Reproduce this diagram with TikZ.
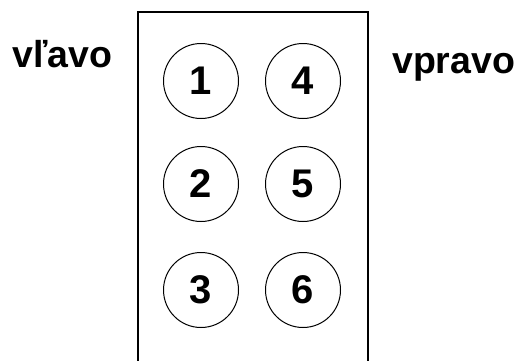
\documentclass[tikz,border=0pt]{standalone}
\usepackage{fontspec}
\setmainfont{Liberation Sans}
\usepackage{tikz}

\begin{document}
\begin{tikzpicture}[x=1pt,y=1pt]
	\tikzstyle{button} = [draw, circle, line width=1pt, minimum size=75pt, inner sep=0pt, font=\fontsize{40}{40}\selectfont\bfseries]
	\tikzstyle{side} = [anchor=base west, inner sep=0pt, font=\fontsize{37.5}{37.5}\selectfont\bfseries]
	\useasboundingbox (0,0) rectangle (518,360);

	\draw[line width=1.6pt] (138,-2) -- (138,348) -- (368,348) -- (368,-2);

	\node[button] (b1) at (201,279) {1};
	\node[button] (b4) at (303,279) {4};
	\node[button] (b2) at (201,176) {2};
	\node[button] (b5) at (303,176) {5};
	\node[button] (b3) at (201,70) {3};
	\node[button] (b6) at (303,70) {6};

	\node[side] (lavo) at (12,293) {vľavo};
	\node[side] (pravo) at (392,287) {vpravo};
\end{tikzpicture}
\end{document}
